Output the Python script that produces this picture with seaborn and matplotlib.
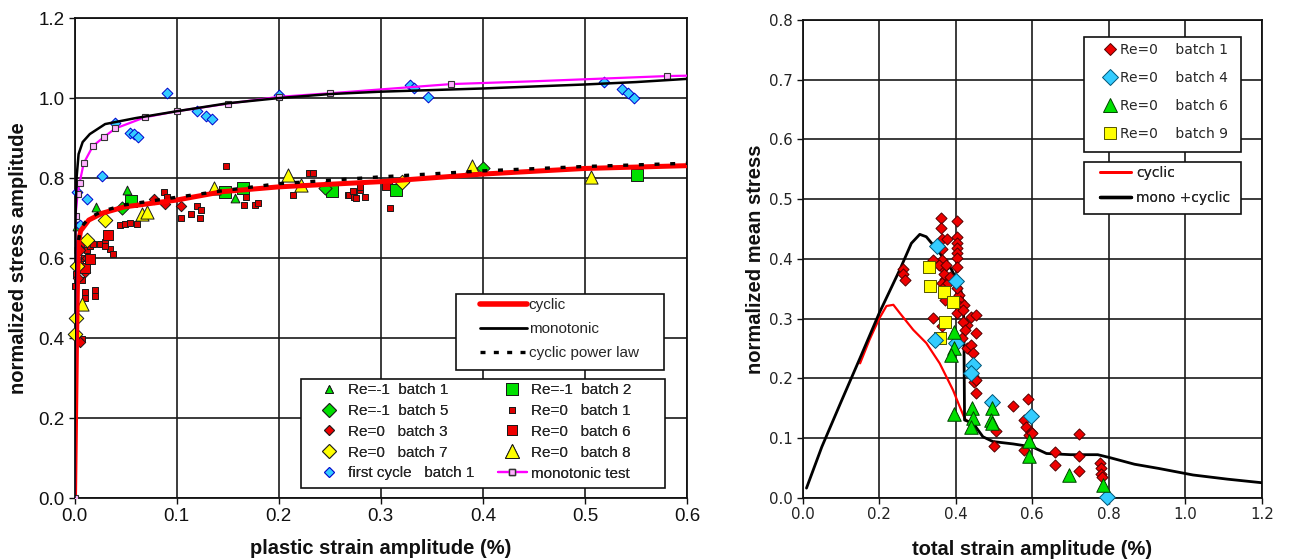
import matplotlib
matplotlib.use("Agg")
import matplotlib.pyplot as plt
import seaborn as sns
from matplotlib.lines import Line2D
from matplotlib.patches import Rectangle
from matplotlib.ticker import MultipleLocator, FormatStrFormatter

# ---------------- Left panel data ----------------
cyc_x = [0.0, 0.002, 0.003, 0.004, 0.006, 0.014, 0.027, 0.049, 0.10, 0.145, 0.20, 0.30, 0.40, 0.50, 0.60]
cyc_y = [0.0, 0.40, 0.55, 0.64, 0.668, 0.695, 0.712, 0.728, 0.745, 0.766, 0.778, 0.791, 0.810, 0.824, 0.831]

pow_x = [0.004, 0.006, 0.014, 0.027, 0.049, 0.10, 0.15, 0.20, 0.30, 0.40, 0.50, 0.60]
pow_y = [0.645, 0.675, 0.700, 0.717, 0.733, 0.752, 0.770, 0.786, 0.803, 0.818, 0.829, 0.837]

mono_x = [0.0, 0.0005, 0.001, 0.002, 0.004, 0.008, 0.015, 0.03, 0.06, 0.10, 0.15, 0.20, 0.25, 0.30,
          0.35, 0.40, 0.45, 0.50, 0.55, 0.60]
mono_y = [0.0, 0.50, 0.70, 0.80, 0.86, 0.89, 0.91, 0.935, 0.950, 0.967, 0.987, 1.000, 1.010, 1.016,
          1.020, 1.024, 1.029, 1.034, 1.040, 1.048]

mtest_x = [0.0, 0.001, 0.003, 0.005, 0.009, 0.018, 0.029, 0.040, 0.069, 0.10, 0.15, 0.20, 0.25,
           0.369, 0.45, 0.58, 0.62]
mtest_y = [0.0, 0.705, 0.76, 0.788, 0.837, 0.880, 0.903, 0.924, 0.952, 0.967, 0.986, 1.003, 1.012,
           1.035, 1.042, 1.055, 1.057]

rm1b1_x = [0.002, 0.021, 0.051, 0.157]
rm1b1_y = [0.680, 0.727, 0.769, 0.750]
rm1b2_x = [0.055, 0.147, 0.165, 0.252, 0.315, 0.551]
rm1b2_y = [0.742, 0.765, 0.775, 0.768, 0.771, 0.807]
rm1b5_x = [0.047, 0.245, 0.400]
rm1b5_y = [0.725, 0.776, 0.826]
r0b3_x = [0.003, 0.005, 0.008, 0.010, 0.012, 0.078, 0.089, 0.104, 0.005]
r0b3_y = [0.550, 0.620, 0.640, 0.565, 0.600, 0.748, 0.734, 0.730, 0.390]
r0b1_x = [0.000, 0.001, 0.002, 0.004, 0.005, 0.007, 0.009, 0.010, 0.012, 0.015, 0.018, 0.020,
          0.025, 0.030, 0.035, 0.038, 0.045, 0.049, 0.054, 0.061, 0.088, 0.091, 0.104, 0.114,
          0.120, 0.123, 0.124, 0.148, 0.166, 0.168, 0.177, 0.180, 0.214, 0.230, 0.234, 0.268,
          0.269, 0.273, 0.274, 0.276, 0.280, 0.280, 0.285, 0.309, 0.005, 0.007, 0.010, 0.020, 0.030]
r0b1_y = [0.530, 0.560, 0.620, 0.580, 0.590, 0.544, 0.600, 0.514, 0.620, 0.630, 0.635, 0.504,
          0.635, 0.640, 0.623, 0.610, 0.683, 0.684, 0.688, 0.684, 0.765, 0.753, 0.701, 0.710,
          0.729, 0.700, 0.719, 0.830, 0.733, 0.753, 0.732, 0.737, 0.758, 0.813, 0.813, 0.758,
          0.757, 0.768, 0.752, 0.750, 0.771, 0.777, 0.752, 0.726, 0.393, 0.398, 0.500, 0.520, 0.630]
r0b6_x = [0.010, 0.015, 0.033, 0.306]
r0b6_y = [0.575, 0.598, 0.657, 0.783]
r0b7_x = [0.000, 0.001, 0.002, 0.012, 0.030, 0.321]
r0b7_y = [0.410, 0.450, 0.580, 0.646, 0.696, 0.790]
r0b8_x = [0.007, 0.066, 0.071, 0.137, 0.209, 0.222, 0.389, 0.506]
r0b8_y = [0.485, 0.711, 0.715, 0.775, 0.807, 0.782, 0.830, 0.802]
fc1_x = [0.002, 0.005, 0.012, 0.027, 0.040, 0.054, 0.058, 0.062, 0.091, 0.120, 0.129, 0.135,
         0.200, 0.329, 0.333, 0.346, 0.519, 0.536, 0.542, 0.548]
fc1_y = [0.766, 0.682, 0.748, 0.806, 0.938, 0.913, 0.909, 0.903, 1.013, 0.967, 0.956, 0.947,
         1.007, 1.033, 1.026, 1.003, 1.041, 1.022, 1.012, 1.000]

# ---------------- Right panel data ----------------
rc_x = [0.15, 0.175, 0.20, 0.219, 0.237, 0.254, 0.289, 0.323, 0.358, 0.393, 0.41, 0.423, 0.43]
rc_y = [0.225, 0.265, 0.300, 0.321, 0.323, 0.309, 0.281, 0.259, 0.225, 0.180, 0.153, 0.133, 0.128]
mc_x = [0.01, 0.05, 0.10, 0.15, 0.20, 0.254, 0.284, 0.306, 0.323, 0.358, 0.389, 0.41, 0.417, 0.421,
        0.423, 0.445, 0.471, 0.497, 0.55, 0.60, 0.637, 0.70, 0.771, 0.803, 0.867, 0.93, 1.02, 1.11, 1.2]
mc_y = [0.016, 0.085, 0.160, 0.234, 0.309, 0.382, 0.426, 0.441, 0.437, 0.410, 0.382, 0.356, 0.337,
        0.300, 0.130, 0.125, 0.102, 0.094, 0.090, 0.085, 0.074, 0.072, 0.072, 0.067, 0.056, 0.049,
        0.038, 0.031, 0.025]

b1_x = [0.261, 0.261, 0.267,
        0.361, 0.361, 0.363, 0.376, 0.363, 0.365, 0.341, 0.367, 0.371, 0.363, 0.373, 0.371, 0.341, 0.363,
        0.355, 0.370, 0.375, 0.380, 0.385, 0.408, 0.410, 0.415, 0.430, 0.430,
        0.402, 0.402, 0.402, 0.402, 0.402, 0.402, 0.402, 0.402, 0.406, 0.403, 0.421, 0.420, 0.420,
        0.423, 0.417, 0.441, 0.452, 0.452, 0.441, 0.445, 0.445, 0.448, 0.454, 0.452,
        0.506, 0.499, 0.550, 0.590, 0.578, 0.584, 0.597, 0.592, 0.600, 0.578, 0.660, 0.660,
        0.722, 0.722, 0.722, 0.778, 0.780, 0.780, 0.783]
b1_y = [0.383, 0.375, 0.365,
        0.468, 0.452, 0.433, 0.433, 0.416, 0.398, 0.398, 0.384, 0.366, 0.359, 0.354, 0.331, 0.301, 0.287,
        0.390, 0.375, 0.390, 0.360, 0.370, 0.340, 0.330, 0.320, 0.290, 0.250,
        0.463, 0.437, 0.426, 0.418, 0.410, 0.401, 0.386, 0.351, 0.323, 0.309, 0.322, 0.315, 0.295,
        0.281, 0.267, 0.303, 0.306, 0.275, 0.256, 0.242, 0.203, 0.194, 0.197, 0.175,
        0.112, 0.087, 0.153, 0.165, 0.130, 0.119, 0.110, 0.105, 0.108, 0.080, 0.077, 0.055,
        0.107, 0.069, 0.045, 0.058, 0.049, 0.040, 0.034]
b4_x = [0.352, 0.400, 0.347, 0.400, 0.445, 0.439, 0.496, 0.597, 0.794]
b4_y = [0.421, 0.363, 0.264, 0.259, 0.222, 0.208, 0.160, 0.137, 0.001]
b6_x = [0.396, 0.396, 0.387, 0.395, 0.443, 0.445, 0.439, 0.496, 0.491, 0.496, 0.591, 0.591, 0.696, 0.785]
b6_y = [0.277, 0.250, 0.239, 0.140, 0.150, 0.133, 0.119, 0.150, 0.130, 0.125, 0.095, 0.070, 0.038, 0.022]
b9_x = [0.330, 0.332, 0.369, 0.393, 0.373, 0.358]
b9_y = [0.387, 0.355, 0.344, 0.327, 0.294, 0.268]

left_line_labels = ["cyclic", "monotonic", "cyclic power law"]
left_point_labels = ["Re=-1  batch 1", "Re=-1  batch 5", "Re=0   batch 3", "Re=0   batch 7",
                     "first cycle   batch 1", "Re=-1  batch 2", "Re=0   batch 1", "Re=0   batch 6",
                     "Re=0   batch 8", "monotonic test"]
right_point_labels = ["Re=0    batch 1", "Re=0    batch 4", "Re=0    batch 6", "Re=0    batch 9"]
right_line_labels = ["cyclic", "mono +cyclic"]

# ---------------- styling ----------------
sns.set_theme(style="white")
plt.rcParams["font.family"] = ["Liberation Sans", "DejaVu Sans"]

RED = "#ff0000"
GREEN = "#00e000"
YELLOW = "#ffff00"
CYAN = "#33ccff"
MAG = "#ff00ff"
EDGE = "#1a1a1a"
W, H = 1289.0, 560.0

fig = plt.figure(figsize=(12.89, 5.6), dpi=100)
axL = fig.add_axes([0.0578, 0.1107, 0.4752, 0.857])
axR = fig.add_axes([0.6227, 0.1113, 0.3563, 0.853])


def fx(px):
    return px / W


def fy(py):
    return 1.0 - py / H


def frame(ax):
    ax.set_facecolor("white")
    for sp in ax.spines.values():
        sp.set_visible(True)
        sp.set_color("#111111")
        sp.set_linewidth(1.3)
    ax.grid(True, color="#1a1a1a", linewidth=1.2)
    ax.set_axisbelow(True)
    ax.tick_params(axis="both", which="major", direction="out", length=4, width=1.0,
                   color="#111111", left=True, bottom=True, pad=3)


def pts(ax, x, y, marker, s, fc, ec=EDGE, lw=0.7, z=5):
    sns.scatterplot(x=x, y=y, ax=ax, marker=marker, s=s, color=fc, edgecolor=ec,
                    linewidth=lw, zorder=z, legend=False, clip_on=False)


def line(ax, x, y, color, lw, z, ls="-"):
    sns.lineplot(x=x, y=y, ax=ax, color=color, linewidth=lw, sort=False,
                 estimator=None, zorder=z, legend=False)
    ln = ax.lines[-1]
    ln.set_linestyle(ls)
    return ln


def box(ax, x0, y0, x1, y1):
    r = Rectangle((fx(x0), fy(y1)), fx(x1) - fx(x0), fy(y0) - fy(y1), transform=fig.transFigure,
                  facecolor="white", edgecolor="#111111", linewidth=1.2, zorder=8, clip_on=False)
    ax.add_patch(r)


def legend(ax, handles, labels, px, py, **kw):
    lg = ax.legend(handles, labels, loc="upper left", bbox_to_anchor=(fx(px), fy(py)),
                   bbox_transform=fig.transFigure, borderaxespad=0, borderpad=0,
                   frameon=False, **kw)
    lg.set_zorder(9)
    ax.add_artist(lg)
    return lg


def mk(marker, ms, fc, ec=EDGE):
    return Line2D([], [], ls="none", marker=marker, markersize=ms, markerfacecolor=fc,
                  markeredgecolor=ec, markeredgewidth=0.7)


# ---------------- Left panel ----------------
frame(axL)
pts(axL, r0b1_x, r0b1_y, "s", 16, "#dd0000", lw=0.7)
pts(axL, r0b3_x, r0b3_y, "D", 28, "#ee0000")
pts(axL, r0b6_x, r0b6_y, "s", 55, "#ee0000")
pts(axL, rm1b1_x, rm1b1_y, "^", 40, GREEN)
pts(axL, rm1b2_x, rm1b2_y, "s", 75, GREEN)
pts(axL, rm1b5_x, rm1b5_y, "D", 45, GREEN)
pts(axL, r0b7_x, r0b7_y, "D", 55, YELLOW)
pts(axL, r0b8_x, r0b8_y, "^", 90, YELLOW)
pts(axL, fc1_x, fc1_y, "D", 30, CYAN, ec="#0000cc")

line(axL, cyc_x, cyc_y, RED, 3.6, 6)
line(axL, pow_x, pow_y, "black", 2.4, 7, ls=(0, (1.5, 3.2)))
mt = line(axL, mtest_x, mtest_y, MAG, 1.6, 6)
mt.set_marker("s")
mt.set_markersize(4)
mt.set_markerfacecolor("#ffb3ff")
mt.set_markeredgecolor("#333333")
mt.set_markeredgewidth(0.8)
mt.set_markevery(list(range(0, 14)) + [15])
line(axL, mono_x, mono_y, "black", 1.8, 7)

axL.set_xlim(0, 0.6)
axL.set_ylim(0, 1.2)
axL.xaxis.set_major_locator(MultipleLocator(0.1))
axL.yaxis.set_major_locator(MultipleLocator(0.2))
axL.xaxis.set_major_formatter(FormatStrFormatter("%.1f"))
axL.yaxis.set_major_formatter(FormatStrFormatter("%.1f"))
axL.tick_params(labelsize=13.5, labelcolor="#111111")
axL.set_xlabel("plastic strain amplitude (%)", fontsize=14.5, fontweight="bold", color="#111111")
axL.set_ylabel("normalized stress amplitude", fontsize=14.5, fontweight="bold", color="#111111")
axL.xaxis.set_label_coords(0.5, -0.086)
axL.yaxis.set_label_coords(-0.076, 0.5)

h1 = [Line2D([], [], color=RED, lw=4),
      Line2D([], [], color="black", lw=2),
      Line2D([], [], color="black", lw=2.4, ls=(0, (1.5, 2.5)))]
box(axL, 456, 294, 664, 370)
legend(axL, h1, left_line_labels, 480, 298, fontsize=11, handlelength=3.07,
       handletextpad=0.12, labelspacing=0.66)

mt_h = Line2D([], [], color=MAG, lw=1.6, marker="s", markersize=4,
              markerfacecolor="#ffb3ff", markeredgecolor="#333333")
h2 = [mk("^", 6, GREEN), mk("D", 7, GREEN), mk("D", 5.5, "#ee0000"), mk("D", 7.5, YELLOW),
      mk("D", 5.5, CYAN, "#0000cc"),
      mk("s", 8, GREEN), mk("s", 4, "#dd0000"), mk("s", 7, "#ee0000"), mk("^", 9.5, YELLOW), mt_h]
box(axL, 301, 379, 665, 488)
legend(axL, h2, left_point_labels, 314, 383, ncol=2, fontsize=11, handlelength=1.95,
       handletextpad=0.25, labelspacing=0.45, columnspacing=1.54)

# ---------------- Right panel ----------------
frame(axR)
line(axR, rc_x, rc_y, RED, 1.6, 3)
line(axR, mc_x, mc_y, "black", 2.0, 4)
pts(axR, b1_x, b1_y, "D", 32, "#ee0000", ec="#550000")
pts(axR, b9_x, b9_y, "s", 75, YELLOW, ec="#555500")
pts(axR, b4_x, b4_y, "D", 65, CYAN, ec="#005577")
pts(axR, b6_x, b6_y, "^", 95, GREEN, ec="#004400")

axR.set_xlim(0, 1.2)
axR.set_ylim(0, 0.8)
axR.xaxis.set_major_locator(MultipleLocator(0.2))
axR.yaxis.set_major_locator(MultipleLocator(0.1))
axR.xaxis.set_major_formatter(FormatStrFormatter("%.1f"))
axR.yaxis.set_major_formatter(FormatStrFormatter("%.1f"))
axR.tick_params(labelsize=10.8, labelcolor="#222222")
for lbl in axR.get_xticklabels() + axR.get_yticklabels():
    lbl.set_family("DejaVu Sans")
axR.set_xlabel("total strain amplitude (%)", fontsize=14.5, fontweight="bold", color="#111111")
axR.set_ylabel("normalized mean stress", fontsize=14.5, fontweight="bold", color="#111111")
axR.xaxis.set_label_coords(0.5, -0.088)
axR.yaxis.set_label_coords(-0.082, 0.5)

hA = [mk("D", 6, "#ee0000", "#550000"), mk("D", 8, CYAN, "#005577"),
      mk("^", 10, GREEN, "#004400"), mk("s", 9, YELLOW, "#555500")]
box(axR, 1084, 37, 1241, 152)
legend(axR, hA, right_point_labels, 1103, 43, handlelength=1.0, handletextpad=0.2,
       labelspacing=1.0, prop={"family": "DejaVu Sans", "size": 10})

hB = [Line2D([], [], color=RED, lw=2), Line2D([], [], color="black", lw=2.4)]
box(axR, 1084, 161.5, 1241, 213.6)
legend(axR, hB, right_line_labels, 1100, 166, handlelength=2.23, handletextpad=0.36,
       labelspacing=0.8, prop={"family": "DejaVu Sans", "size": 10})

fig.savefig("out.png", dpi=100, facecolor="white")
